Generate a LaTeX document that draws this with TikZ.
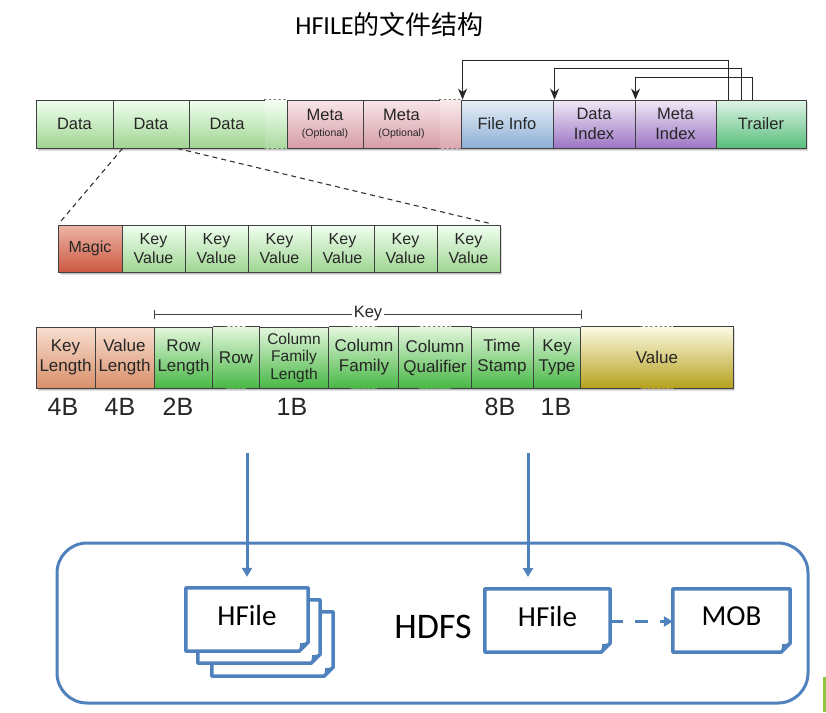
\documentclass[tikz,border=0pt]{standalone}
\usepackage{fontspec}
\setmainfont{Liberation Sans}
\newfontfamily\calfont{Carlito}
\newfontfamily\cjkfont{Noto Sans CJK SC}
\usetikzlibrary{arrows.meta,calc}
\definecolor{hblue}{HTML}{4F81BD}
\definecolor{cornergreen}{RGB}{141,198,63}
\newcommand\cellbox[7]{%
  \pgfmathsetmacro\cw{#3-#2}\pgfmathsetmacro\ch{#5-#4}%
  \node[cellsty,#6,minimum width=\cw pt,minimum height=\ch pt] (#1) at ({(#2+#3)/2},{(#4+#5)/2}) {#7};}
\newcommand\dotedges[2]{%
  \draw[edgesty] (#1.north west) -- ([xshift=-#2pt]#1.north) ([xshift=#2pt]#1.north) -- (#1.north east) -- (#1.south east) -- ([xshift=#2pt]#1.south) ([xshift=-#2pt]#1.south) -- (#1.south west) -- (#1.north west);
  \draw[dotsty] ([xshift=-#2pt]#1.north) -- ([xshift=#2pt]#1.north) ([xshift=-#2pt]#1.south) -- ([xshift=#2pt]#1.south);}
\newcommand\docoutline[1]{%
  \draw[docsty] (#1.north west) -- (#1.north east) -- ([yshift=9pt]#1.south east) -- ([xshift=-9pt]#1.south east) -- (#1.south west) -- cycle;
  \fill[hblue] ([yshift=9pt]#1.south east) -- ([xshift=-9pt]#1.south east) -- ([xshift=-8pt,yshift=8pt]#1.south east) -- cycle;}
\tikzset{
  cellsty/.style={draw=black!75,line width=0.9pt,inner sep=0pt,align=center,text=black!85},
  opencell/.style={draw=none},
  edgesty/.style={draw=black!75,line width=0.9pt},
  dotsty/.style={draw=black!55,line width=1.3pt,dash pattern=on 1.3pt off 3.5pt,line cap=round},
  f1/.style={font=\fontsize{16.5}{19.5}\selectfont},
  f2/.style={font=\fontsize{16}{18.5}\selectfont},
  f3/.style={font=\fontsize{17}{20}\selectfont},
  f3s/.style={font=\fontsize{15.5}{17.5}\selectfont},
  datacol/.style={f1,top color=green!6!white,bottom color={rgb,255:red,160;green,213;blue,146}},
  kvcol/.style={f2,top color=green!6!white,bottom color={rgb,255:red,160;green,213;blue,146}},
  metacol/.style={f1,top color={rgb,255:red,248;green,230;blue,233},bottom color={rgb,255:red,214;green,156;blue,166}},
  ficol/.style={f1,top color={rgb,255:red,232;green,239;blue,246},bottom color={rgb,255:red,140;green,175;blue,214}},
  ixcol/.style={f1,top color={rgb,255:red,240;green,232;blue,246},bottom color={rgb,255:red,156;green,118;blue,196}},
  trcol/.style={f1,top color={rgb,255:red,224;green,244;blue,231},bottom color={rgb,255:red,88;green,190;blue,124}},
  magcol/.style={f2,top color={rgb,255:red,236;green,182;blue,166},bottom color={rgb,255:red,204;green,88;blue,66}},
  salcol/.style={f3,top color={rgb,255:red,248;green,222;blue,208},bottom color={rgb,255:red,216;green,144;blue,106}},
  kgcol/.style={f3,top color={rgb,255:red,228;green,246;blue,222},bottom color={rgb,255:red,72;green,184;blue,68}},
  kgcols/.style={f3s,top color={rgb,255:red,228;green,246;blue,222},bottom color={rgb,255:red,72;green,184;blue,68}},
  valcol/.style={f3,top color={rgb,255:red,252;green,249;blue,226},bottom color={rgb,255:red,182;green,162;blue,30}},
  shad/.style={fill=black,opacity=0.13},
  ptr/.style={draw=black!85,line width=1.3pt,-{Stealth[length=11pt,width=9pt]}},
  zoomline/.style={draw=black!80,line width=1.1pt,dash pattern=on 5pt off 4pt},
  bytelab/.style={font=\fontsize{25}{27}\selectfont,text=black!85},
  docsty/.style={draw=hblue,line width=3.5pt,fill=white,line join=round},
  barrow/.style={draw=hblue,line width=3pt,-{Triangle[length=9pt,width=10pt]}},
  doclab/.style={font=\calfont\fontsize{29}{32}\selectfont,text=black}
}
\begin{document}
\begin{tikzpicture}[x=1pt,y=-1pt]
\useasboundingbox (0,0) rectangle (826,712);
% title
\node (title) at (389.5,25) {\calfont\fontsize{26}{28}\selectfont HFILE\cjkfont 的文件结构};
% shadows
\fill[shad] (38,102) rectangle (808,151);
\fill[shad] (39,101) rectangle (807,149.5);
\fill[shad] (60,227) rectangle (502,275);
\fill[shad] (61,226) rectangle (501,273.5);
\fill[shad] (38,329) rectangle (735,391);
\fill[shad] (39,328) rectangle (734,389.5);
% row 1
\cellbox{d1}{36}{113}{100}{148}{datacol}{Data}
\cellbox{d2}{113}{189}{100}{148}{datacol}{Data}
\cellbox{d3}{189}{265}{100}{148}{datacol}{Data}
\cellbox{g1}{265}{287}{100}{148}{opencell,top color=green!4!white,bottom color={rgb,255:red,170;green,218;blue,158}}{}
\draw[dotsty] (g1.north west) -- (g1.north east) (g1.south west) -- (g1.south east);
\cellbox{m1}{287}{363}{100}{148}{metacol}{Meta\\[-4pt]{\fontsize{10.5}{12}\selectfont(Optional)}}
\cellbox{m2}{363}{440}{100}{148}{metacol}{Meta\\[-4pt]{\fontsize{10.5}{12}\selectfont(Optional)}}
\cellbox{g2}{440}{461}{100}{148}{opencell,top color={rgb,255:red,249;green,234;blue,236},bottom color={rgb,255:red,220;green,168;blue,176}}{}
\draw[dotsty] (g2.north west) -- (g2.north east) (g2.south west) -- (g2.south east);
\cellbox{fi}{461}{553}{100}{148}{ficol}{File Info}
\cellbox{di}{553}{635}{100}{148}{ixcol}{Data\\Index}
\cellbox{mi}{635}{716}{100}{148}{ixcol}{Meta\\Index}
\cellbox{tr}{716}{806}{100}{148}{trcol}{Trailer}
% pointer arrows
\draw[ptr] ([xshift=13pt]tr.north west) -- ++(0,39pt) -| ([xshift=2pt]fi.north west);
\draw[ptr] ([xshift=26pt]tr.north west) -- ++(0,31pt) -| ([xshift=2pt]di.north west);
\draw[ptr] ([xshift=37pt]tr.north west) -- ++(0,22pt) -| ([xshift=1pt]mi.north west);
% row 2
\cellbox{mg}{58}{122}{225}{272}{magcol}{Magic}
\cellbox{kv1}{122}{185}{225}{272}{kvcol}{Key\\Value}
\cellbox{kv2}{185}{248}{225}{272}{kvcol}{Key\\Value}
\cellbox{kv3}{248}{311}{225}{272}{kvcol}{Key\\Value}
\cellbox{kv4}{311}{374}{225}{272}{kvcol}{Key\\Value}
\cellbox{kv5}{374}{437}{225}{272}{kvcol}{Key\\Value}
\cellbox{kv6}{437}{500}{225}{272}{kvcol}{Key\\Value}
% zoom lines
\draw[zoomline] ([xshift=10pt]d2.south west) -- ([xshift=3pt,yshift=3pt]mg.north west);
\draw[zoomline] ([xshift=-12pt]d2.south east) -- ([xshift=-10pt,yshift=1pt]kv6.north east);
% row 3
\cellbox{kl}{36}{95}{327}{388}{salcol}{Key\\Length}
\cellbox{vl}{95}{154}{327}{388}{salcol}{Value\\Length}
\cellbox{rl}{154}{213}{327}{388}{kgcol}{Row\\Length}
\cellbox{rw}{213}{259}{327}{388}{kgcol,opencell}{Row}
\dotedges{rw}{10}
\cellbox{cfl}{259}{329}{327}{388}{kgcols}{Column\\Family\\Length}
\cellbox{cf}{329}{399}{327}{388}{kgcol,opencell}{Column\\Family}
\dotedges{cf}{13}
\cellbox{cq}{399}{471}{327}{388}{kgcol,opencell}{Column\\Qualifier}
\dotedges{cq}{16}
\cellbox{ts}{471}{533}{327}{388}{kgcol}{Time\\Stamp}
\cellbox{kt}{533}{581}{327}{388}{kgcol}{Key\\Type}
\cellbox{val}{581}{733}{327}{388}{valcol,opencell}{Value}
\dotedges{val}{16}
% key bracket
\coordinate (kb1) at ($(rl.north west)+(0,12pt)$);
\coordinate (kb2) at ($(kt.north east)+(0,12pt)$);
\draw[edgesty,{Bar[width=9pt]}-{Bar[width=9pt]}] (kb1) -- (kb2);
\node[fill=white,inner sep=2pt,font=\fontsize{16.5}{18}\selectfont,text=black!85] (keylab) at (368,314) {Key};
% byte labels
\node[bytelab] (b1) at (63,407) {4B};
\node[bytelab] (b2) at (120,407) {4B};
\node[bytelab] (b3) at (178,407) {2B};
\node[bytelab] (b4) at (292,407) {1B};
\node[bytelab] (b5) at (500,407) {8B};
\node[bytelab] (b6) at (556,407) {1B};
% HDFS
\node[draw=hblue,line width=3pt,rounded corners=30pt,minimum width=751pt,minimum height=160pt] (hdfs) at (432.5,623) {};
\node[font=\calfont\fontsize{36}{40}\selectfont] (hdfslab) at (433,627) {HDFS};
% docs
\node[minimum width=121pt,minimum height=64pt,inner sep=0pt] (hf3) at (272.5,644) {};
\docoutline{hf3}
\node[minimum width=122pt,minimum height=63pt,inner sep=0pt] (hf2) at (259,631.5) {};
\docoutline{hf2}
\node[minimum width=122pt,minimum height=63pt,inner sep=0pt] (hf1) at (247,619.5) {};
\docoutline{hf1}
\node[doclab] at ([yshift=4pt]hf1.center) {HFile};
\node[minimum width=125pt,minimum height=63pt,inner sep=0pt] (hfr) at (547.5,620.5) {};
\docoutline{hfr}
\node[doclab] at ([yshift=4pt]hfr.center) {HFile};
\node[minimum width=117pt,minimum height=63pt,inner sep=0pt] (mob) at (731.5,620.5) {};
\docoutline{mob}
\node[doclab] at ([yshift=4pt]mob.center) {MOB};
% blue arrows
\coordinate (s1) at (247,453);
\coordinate (s2) at (528,453);
\draw[barrow,shorten >=11pt] (s1) -- (hf1.north);
\draw[barrow] (s2) -- (528,577);
\draw[barrow,dash pattern=on 13pt off 12pt] ([yshift=-1pt]hfr.east) -- ([yshift=-1pt]mob.west);
% corner artifact
\fill[cornergreen] (823,677) rectangle (826,712);
\end{tikzpicture}
\end{document}
